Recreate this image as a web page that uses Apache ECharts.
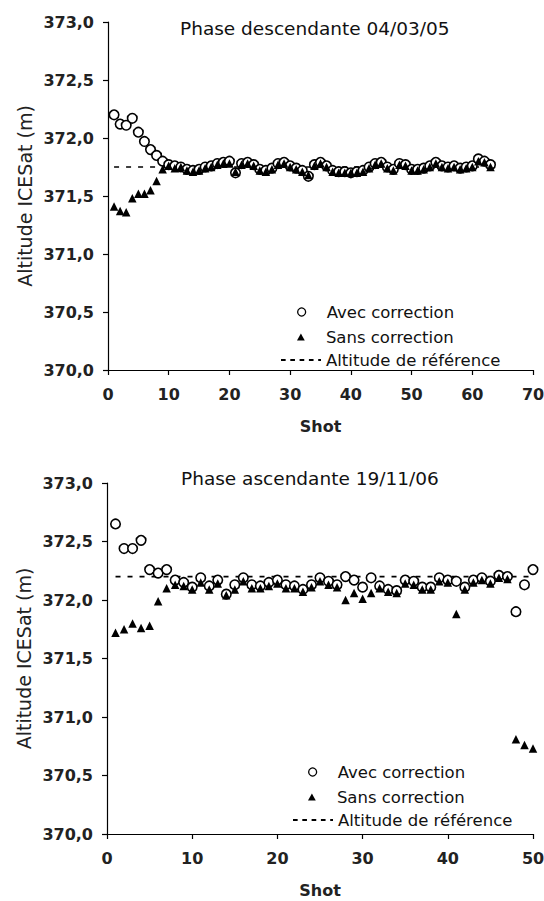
<!DOCTYPE html>
<html><head><meta charset="utf-8">
<script src="https://cdn.jsdelivr.net/npm/echarts@6/dist/echarts.min.js"></script>
<style>html,body{margin:0;padding:0;background:#fff}#c{width:544px;height:901px}</style>
</head><body><div id="c"></div>
<script>
// ---- Data: Phase descendante 04/03/05 ----
const shots1 = [1,2,3,4,5,6,7,8,9,10,11,12,13,14,15,16,17,18,19,20,21,22,23,24,25,26,27,28,29,30,31,32,33,34,35,36,37,38,39,40,41,42,43,44,45,46,47,48,49,50,51,52,53,54,55,56,57,58,59,60,61,62,63];
const avec1 = [372.20,372.12,372.11,372.17,372.05,371.97,371.90,371.85,371.80,371.77,
  371.76,371.75,371.73,371.72,371.73,371.75,371.76,371.78,371.79,371.80,
  371.70,371.78,371.79,371.77,371.73,371.72,371.74,371.78,371.79,371.76,
  371.74,371.72,371.67,371.77,371.79,371.76,371.72,371.71,371.71,371.70,
  371.71,371.72,371.75,371.78,371.79,371.75,371.73,371.78,371.77,371.73,
  371.73,371.74,371.76,371.79,371.76,371.75,371.76,371.74,371.75,371.76,
  371.82,371.80,371.77];
const sans1 = [371.41,371.37,371.36,371.48,371.52,371.52,371.55,371.63,371.73,371.76,
  371.74,371.75,371.72,371.71,371.72,371.74,371.75,371.77,371.78,371.78,
  371.71,371.77,371.78,371.76,371.72,371.71,371.73,371.77,371.78,371.75,
  371.73,371.71,371.68,371.76,371.78,371.75,371.71,371.70,371.70,371.70,
  371.70,371.71,371.74,371.77,371.78,371.74,371.72,371.77,371.76,371.72,
  371.72,371.73,371.75,371.78,371.75,371.74,371.75,371.73,371.74,371.75,
  371.80,371.79,371.75];
const ref1 = 371.75;

// ---- Data: Phase ascendante 19/11/06 ----
const shots2 = [1,2,3,4,5,6,7,8,9,10,11,12,13,14,15,16,17,18,19,20,21,22,23,24,25,26,27,28,29,30,31,32,33,34,35,36,37,38,39,40,41,42,43,44,45,46,47,48,49,50];
const avec2 = [372.65,372.44,372.44,372.51,372.26,372.23,372.26,372.17,372.15,372.11,
  372.19,372.12,372.17,372.05,372.13,372.19,372.13,372.12,372.15,372.17,
  372.13,372.12,372.09,372.13,372.19,372.16,372.13,372.20,372.17,372.11,
  372.19,372.12,372.09,372.08,372.17,372.16,372.11,372.11,372.19,372.17,
  372.16,372.11,372.17,372.19,372.16,372.21,372.20,371.90,372.13,372.26];
const sans2 = [371.72,371.75,371.80,371.76,371.78,371.99,372.10,372.13,372.12,372.09,
  372.15,372.09,372.14,372.04,372.09,372.16,372.10,372.10,372.12,372.14,
  372.10,372.10,372.07,372.11,372.16,372.13,372.11,372.00,372.06,372.01,
  372.06,372.10,372.07,372.06,372.14,372.13,372.09,372.09,372.16,372.15,
  371.88,372.09,372.15,372.17,372.14,372.19,372.18,370.81,370.76,370.73];
const ref2 = 372.20;

// ---- Axes / labels ----
const titles = ['Phase descendante 04/03/05', 'Phase ascendante 19/11/06'];
const yName = 'Altitude ICESat (m)';
const xName = 'Shot';
const legendNames = ['Avec correction', 'Sans correction', 'Altitude de r\u00e9f\u00e9rence'];
const yTicks = [370.0, 370.5, 371.0, 371.5, 372.0, 372.5, 373.0];
const xTicks1 = [0, 10, 20, 30, 40, 50, 60, 70];
const xTicks2 = [0, 10, 20, 30, 40, 50];

const FF = 'DejaVu Sans';
const dashIcon = 'path://M0,0h5v2h-5z M10,0h5v2h-5z M20,0h5v2h-5z M30,0h5v2h-5z M40,0h3v2h-3z';
const triIcon = 'path://M5,0L10,9L0,9Z';

function pairs(xs, ys) { return xs.map((x, i) => [x, ys[i]]); }
function refLine(xs, v) { return [[xs[0], v], [xs[xs.length - 1], v]]; }

function xAxisCfg(idx, ticks) {
  return {
    gridIndex: idx, type: 'value',
    min: ticks[0], max: ticks[ticks.length - 1], interval: ticks[1] - ticks[0],
    axisLine: { show: true, onZero: false, lineStyle: { color: '#000', width: 1.2 } },
    axisTick: { show: true, length: 5, inside: false, lineStyle: { color: '#000', width: 1.2 } },
    splitLine: { show: false },
    axisLabel: { fontFamily: FF, fontSize: 16, fontWeight: 'bold', color: '#222', margin: 16 },
    name: xName, nameLocation: 'middle', nameGap: 48, nameMoveOverlap: false,
    nameTextStyle: { fontFamily: FF, fontSize: 16, fontWeight: 'bold', color: '#222' }
  };
}
function yAxisCfg(idx) {
  return {
    gridIndex: idx, type: 'value',
    min: yTicks[0], max: yTicks[yTicks.length - 1], interval: yTicks[1] - yTicks[0],
    axisLine: { show: true, onZero: false, lineStyle: { color: '#000', width: 1.2 } },
    axisTick: { show: true, length: 5, inside: false, lineStyle: { color: '#000', width: 1.2 } },
    splitLine: { show: false },
    axisLabel: { fontFamily: FF, fontSize: 16, fontWeight: 'bold', color: '#222', margin: 14,
      formatter: v => v.toFixed(1).replace('.', ',') },
    name: yName, nameLocation: 'middle', nameGap: 74, nameRotate: 90, nameMoveOverlap: false,
    nameTextStyle: { fontFamily: FF, fontSize: 19, fontWeight: 'normal', color: '#222' }
  };
}
function legendCfg(left, top, name, icon, ih, style) {
  const d = { name: name, icon: icon, itemStyle: style };
  return {
    orient: 'vertical', left: left, top: top, padding: 0, itemGap: 0,
    itemWidth: 40, itemHeight: ih, selectedMode: false, symbolKeepAspect: true,
    data: [d],
    textStyle: { fontFamily: FF, fontSize: 16.5, color: '#111', lineHeight: 20 }
  };
}
const circStyle = { color: '#fff', borderColor: '#000', borderWidth: 1.3 };
const triStyle = { color: '#000', borderWidth: 0 };
const dashStyle = { color: '#000', borderWidth: 0 };

function seriesFor(idx, xs, av, sa, ref) {
  return [
    { name: legendNames[2], type: 'line', xAxisIndex: idx, yAxisIndex: idx,
      data: refLine(xs, ref), symbol: 'none', silent: true, z: 1, color: '#000',
      itemStyle: { color: '#000' },
      lineStyle: { color: '#000', width: 1.6, type: [5, 7] } },
    { name: legendNames[0], type: 'scatter', xAxisIndex: idx, yAxisIndex: idx,
      data: pairs(xs, av), symbol: 'circle', symbolSize: 9.5, z: 2,
      itemStyle: { color: '#fff', borderColor: '#000', borderWidth: 1.6, opacity: 1 } },
    { name: legendNames[1], type: 'scatter', xAxisIndex: idx, yAxisIndex: idx,
      data: pairs(xs, sa), symbol: 'triangle', symbolSize: 8.5, z: 3,
      itemStyle: { color: '#000', opacity: 1 } }
  ];
}

const chart = echarts.init(document.getElementById('c'), null, { renderer: 'svg' });
chart.setOption({
  backgroundColor: '#fff',
  animation: false,
  title: [
    { text: titles[0], left: 180, top: 19, padding: 0,
      textStyle: { fontFamily: FF, fontSize: 18.5, fontWeight: 'normal', color: '#111' } },
    { text: titles[1], left: 181, top: 469, padding: 0,
      textStyle: { fontFamily: FF, fontSize: 18.5, fontWeight: 'normal', color: '#111' } }
  ],
  grid: [
    { left: 108, top: 22, width: 425, height: 348, containLabel: false, outerBoundsMode: 'none' },
    { left: 107, top: 483, width: 426, height: 351, containLabel: false, outerBoundsMode: 'none' }
  ],
  xAxis: [xAxisCfg(0, xTicks1), xAxisCfg(1, xTicks2)],
  yAxis: [yAxisCfg(0), yAxisCfg(1)],
  legend: [
    legendCfg(297, 302, legendNames[0], 'circle', 8, circStyle),
    legendCfg(297, 327, legendNames[1], triIcon, 7, triStyle),
    legendCfg(281, 350, legendNames[2], dashIcon, 2, dashStyle),
    legendCfg(308, 762, legendNames[0], 'circle', 8, circStyle),
    legendCfg(308, 787, legendNames[1], triIcon, 7, triStyle),
    legendCfg(293, 810, legendNames[2], dashIcon, 2, dashStyle)
  ],
  series: [].concat(
    seriesFor(0, shots1, avec1, sans1, ref1),
    seriesFor(1, shots2, avec2, sans2, ref2)
  )
});
</script>
</body></html>
